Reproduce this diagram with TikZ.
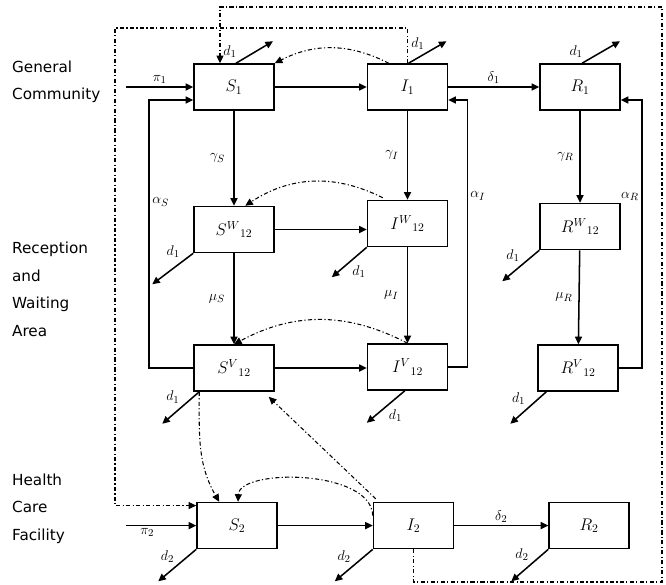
\documentclass[tikz,border=0pt]{standalone}
\usepackage{fontspec}
\setsansfont{DejaVu Sans}
\usetikzlibrary{arrows.meta,positioning,calc}
\tikzset{
    compbox/.style={draw, line width=1.3pt, minimum width=2.4cm, minimum height=1.38cm, inner sep=1pt, font=\fontsize{14}{16}\selectfont},
    flowarrow/.style={-{Triangle[length=6.5pt,width=6pt]}, line width=1.3pt},
    lossarrow/.style={-{Triangle[length=6.5pt,width=6pt]}, line width=1.3pt},
    contactline/.style={-{Triangle[length=6.5pt,width=6pt]}, line width=0.9pt, dash pattern=on 3.5pt off 2pt on 1pt off 2pt},
    ratelabel/.style={font=\fontsize{13}{15}\selectfont, inner sep=2pt},
    arealabel/.style={font=\sffamily\fontsize{13}{23.5}\selectfont, align=left, anchor=west}
}

\begin{document}
\begin{tikzpicture}
        \useasboundingbox (0,0) rectangle (19.98,17.52);

        % compartments
        \node[compbox] (S1) at (7.02,14.91) {$S_1$};
        \node[compbox, right=2.76cm of S1] (I1) {$I_1$};
        \node[compbox, right=2.73cm of I1] (R1) {$R_1$};
        \node[compbox, below=2.85cm of S1] (SW) {$S^{W}{}_{12}$};
        \node[compbox, below=2.67cm of I1] (IW) {$I^{W}{}_{12}$};
        \node[compbox, below=2.76cm of R1] (RW) {$R^{W}{}_{12}$};
        \node[compbox, below=2.73cm of SW] (SV) {$S^{V}{}_{12}$};
        \node[compbox, below=2.88cm of IW] (IV) {$I^{V}{}_{12}$};
        \node[compbox, below=2.82cm of RW, xshift=-0.06cm] (RV) {$R^{V}{}_{12}$};
        \node[compbox, below=3.3cm of SV, xshift=0.09cm] (S2) {$S_2$};
        \node[compbox, right=2.85cm of S2] (I2) {$I_2$};
        \node[compbox, right=2.82cm of I2] (R2) {$R_2$};

        % areas
        \node[arealabel] (general) at (0.24,15.06) {General\\Community};
        \node[arealabel] (waiting) at (0.24,8.835) {Reception\\and\\Waiting\\Area};
        \node[arealabel] (facility) at (0.24,2.265) {Health\\Care\\Facility};

        \coordinate (pi1src) at ($(S1.west)+(-2.01,0)$);
        \coordinate (pi2src) at ($(S2.west)+(-2.1,0)$);
        \coordinate (outerBR) at (19.86,0.06);
        \coordinate (outerTR) at (19.86,17.31);
        \coordinate (innerTL) at (3.45,16.68);

        % flows
        \draw[flowarrow] (pi1src) -- node[ratelabel, above] {$\pi_1$} (S1.west);
        \draw[flowarrow] (S1) -- (I1);
        \draw[flowarrow] (I1) -- node[ratelabel, above] {$\delta_1$} (R1);
        \draw[flowarrow] (S1) -- node[ratelabel, left=5pt] {$\gamma_S$} (SW);
        \draw[flowarrow] (I1) -- node[ratelabel, left=5pt] {$\gamma_I$} (IW);
        \draw[flowarrow] (R1) -- node[ratelabel, left=3pt] {$\gamma_R$} (RW);
        \draw[flowarrow] (SW.east) -- (SW.east -| IW.west);
        \draw[flowarrow] (SW) -- node[ratelabel, left=5pt] {$\mu_S$} (SV);
        \draw[flowarrow] (IW) -- node[ratelabel, left=5pt] {$\mu_I$} (IV);
        \draw[flowarrow] (RW) -- node[ratelabel, left=3pt] {$\mu_R$} (RV);
        \draw[flowarrow] (SV.east) -- (SV.east -| IV.west);
        \draw[flowarrow] (SV.west) -- ++(-1.32,0) |- node[ratelabel, pos=0.31, right] {$\alpha_S$} ($(S1.west)+(0,-0.39)$);
        \draw[flowarrow] (IV.east) -- ++(0.57,0) |- node[ratelabel, pos=0.32, right] {$\alpha_I$} ($(I1.east)+(0,-0.39)$);
        \draw[flowarrow] (RV.east) -- ++(0.69,0) |- node[ratelabel, pos=0.32, left] {$\alpha_R$} ($(R1.east)+(0,-0.39)$);
        \draw[flowarrow] (pi2src) -- node[ratelabel, pos=0.3, below] {$\pi_2$} (S2.west);
        \draw[flowarrow] (S2) -- (I2);
        \draw[flowarrow] (I2) -- node[ratelabel, above] {$\delta_2$} (R2);

        % deaths
        \draw[lossarrow] ($(S1.north)+(0.06,0)$) -- node[ratelabel, pos=0.1, above left] {$d_1$} ++(1.11,0.66);
        \draw[lossarrow] ($(I1.north)+(0.03,0)$) -- node[ratelabel, midway, above left] {$d_1$} ++(1.14,0.66);
        \draw[lossarrow] ($(R1.north)+(0.06,0)$) -- node[ratelabel, pos=0.1, above left] {$d_1$} ++(1.14,0.66);
        \draw[lossarrow] (SW.south west) -- node[ratelabel, pos=0.25, above left] {$d_1$} ++(-1.23,-0.93);
        \draw[lossarrow] (IW.south west) -- node[ratelabel, midway, below right] {$d_1$} ++(-1.05,-0.9);
        \draw[lossarrow] (RW.south west) -- node[ratelabel, pos=0.45, above left] {$d_1$} ++(-1.11,-0.93);
        \draw[lossarrow] ($(SV.south west)+(0.18,0)$) -- node[ratelabel, pos=0.45, above left] {$d_1$} ++(-1.11,-0.96);
        \draw[lossarrow] ($(IV.south west)+(1.14,0)$) -- node[ratelabel, midway, below right] {$d_1$} ++(-1.14,-0.96);
        \draw[lossarrow] ($(RV.south west)+(0.27,0)$) -- node[ratelabel, pos=0.5, above left] {$d_1$} ++(-1.08,-0.96);
        \draw[lossarrow] (S2.south west) -- node[ratelabel, pos=0.5, above left] {$d_2$} ++(-1.14,-0.96);
        \draw[lossarrow] (I2.south west) -- node[ratelabel, pos=0.5, above left] {$d_2$} ++(-1.14,-0.96);
        \draw[lossarrow] (R2.south west) -- node[ratelabel, pos=0.45, above left] {$d_2$} ++(-1.11,-0.96);

        % contacts
        \draw[contactline] (I2.south) |- (outerBR) -- (outerTR) -| ($(S1.north)+(-0.42,0)$);
        \draw[contactline] (I1.north) |- (innerTL) |- ($(S2.west)+(0,0.6)$);
        \draw[contactline] ($(I1.north west)+(0.66,0)$) to[bend right=27] (S1.north east);
        \draw[contactline] ($(IW.north west)+(0.48,0.06)$) to[bend right=30] ($(SW.north west)+(1.56,0)$);
        \draw[contactline] (IV.north) to[bend right=28] (SV.north);
        \draw[contactline] ($(SV.south west)+(0.18,0)$) to[out=-90, in=120] ($(S2.north west)+(0.69,0)$);
        \draw[contactline] ($(I2.north west)+(0.09,0.09)$) -- ($(SV.south east)+(-0.18,-0.15)$);
        \draw[contactline] ($(I2.west)+(0,0.3)$) .. controls +(-0.05,1.4) and +(0.05,1.0) .. ($(S2.north)+(0.03,0)$);
    \end{tikzpicture}
\end{document}
